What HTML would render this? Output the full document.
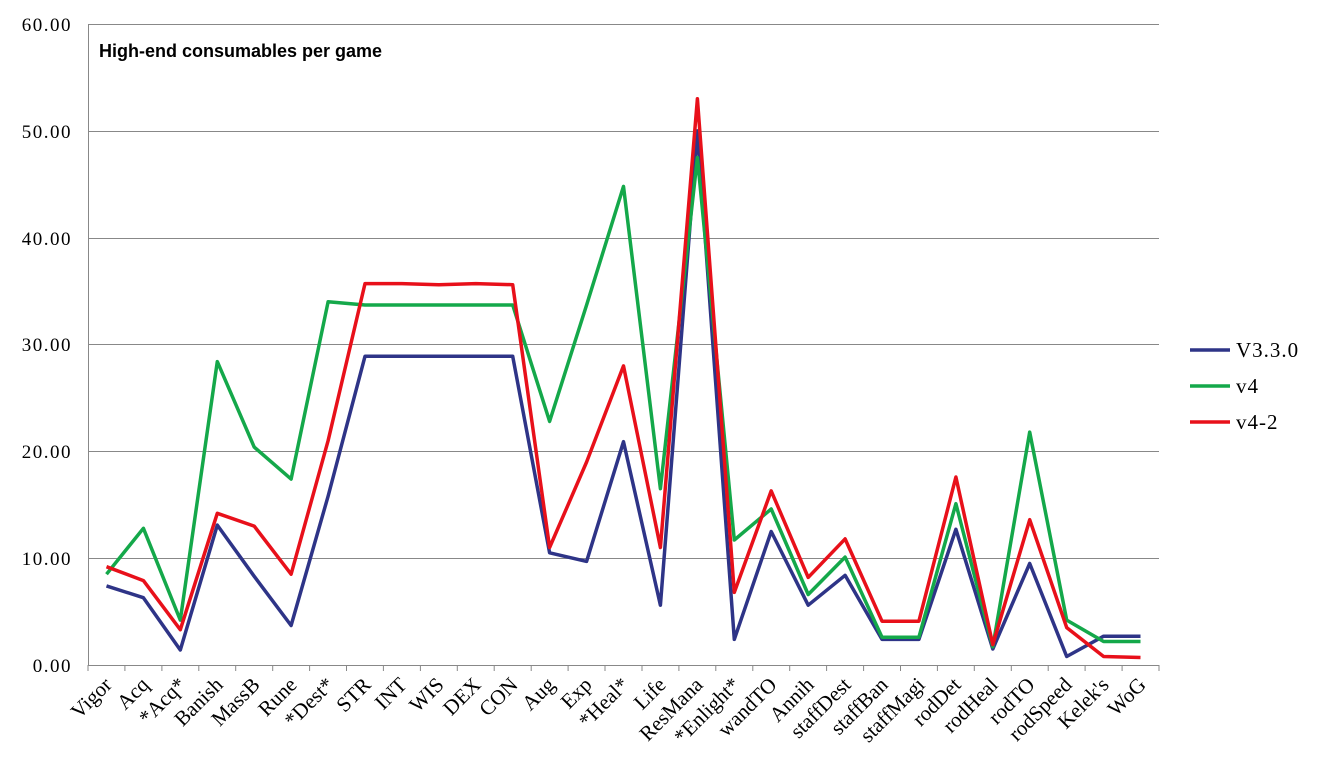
<!DOCTYPE html>
<html><head><meta charset="utf-8"><style>
html,body{margin:0;padding:0;background:#fff;}
svg{display:block;}
.yl{font-family:"Liberation Serif",serif;font-size:19px;letter-spacing:1.5px;fill:#000;}
.xl{font-family:"Liberation Serif",serif;font-size:21px;fill:#000;}
</style></head><body>
<svg id="c" width="1319" height="772" viewBox="0 0 1319 772" xmlns="http://www.w3.org/2000/svg">
<g stroke="#888" stroke-width="1">
<line x1="88" y1="24.5" x2="1159" y2="24.5"/>
<line x1="88" y1="131.5" x2="1159" y2="131.5"/>
<line x1="88" y1="238.5" x2="1159" y2="238.5"/>
<line x1="88" y1="344.5" x2="1159" y2="344.5"/>
<line x1="88" y1="451.5" x2="1159" y2="451.5"/>
<line x1="88" y1="558.5" x2="1159" y2="558.5"/>
<line x1="88" y1="665.5" x2="1159" y2="665.5"/>
<line x1="88.5" y1="24" x2="88.5" y2="665"/>
</g>
<g id="ticks" stroke="#888" stroke-width="1"></g>
<g class="yl" text-anchor="end">
<text x="72" y="31">60.00</text>
<text x="72" y="138">50.00</text>
<text x="72" y="245">40.00</text>
<text x="72" y="351">30.00</text>
<text x="72" y="458">20.00</text>
<text x="72" y="565">10.00</text>
<text x="72" y="672">0.00</text>
</g>
<text x="99" y="57" font-family="Liberation Sans,sans-serif" font-weight="bold" font-size="18">High-end consumables per game</text>
<g class="xl" text-anchor="end">
<text transform="translate(113,686) rotate(-45)">Vigor</text>
<text transform="translate(150,686) rotate(-45)">Acq</text>
<text transform="translate(187,686) rotate(-45)">*Acq*</text>
<text transform="translate(224,686) rotate(-45)">Banish</text>
<text transform="translate(261,686) rotate(-45)">MassB</text>
<text transform="translate(298,686) rotate(-45)">Rune</text>
<text transform="translate(335,686) rotate(-45)">*Dest*</text>
<text transform="translate(372,686) rotate(-45)">STR</text>
<text transform="translate(408,686) rotate(-45)">INT</text>
<text transform="translate(445,686) rotate(-45)">WIS</text>
<text transform="translate(482,686) rotate(-45)">DEX</text>
<text transform="translate(519,686) rotate(-45)">CON</text>
<text transform="translate(556,686) rotate(-45)">Aug</text>
<text transform="translate(593,686) rotate(-45)">Exp</text>
<text transform="translate(630,686) rotate(-45)">*Heal*</text>
<text transform="translate(667,686) rotate(-45)">Life</text>
<text transform="translate(704,686) rotate(-45)">ResMana</text>
<text transform="translate(741,686) rotate(-45)">*Enlight*</text>
<text transform="translate(778,686) rotate(-45)">wandTO</text>
<text transform="translate(815,686) rotate(-45)">Annih</text>
<text transform="translate(852,686) rotate(-45)">staffDest</text>
<text transform="translate(889,686) rotate(-45)">staffBan</text>
<text transform="translate(926,686) rotate(-45)">staffMagi</text>
<text transform="translate(962,686) rotate(-45)">rodDet</text>
<text transform="translate(999,686) rotate(-45)">rodHeal</text>
<text transform="translate(1036,686) rotate(-45)">rodTO</text>
<text transform="translate(1073,686) rotate(-45)">rodSpeed</text>
<text transform="translate(1110,686) rotate(-45)">Kelek's</text>
<text transform="translate(1147,686) rotate(-45)">WoG</text>
</g>
<polyline id="pb" fill="none" stroke="#2e3487" stroke-width="3.5" stroke-linejoin="round"/>
<polyline id="pg" fill="none" stroke="#14a84a" stroke-width="3.5" stroke-linejoin="round"/>
<polyline id="pr" fill="none" stroke="#e8101a" stroke-width="3.5" stroke-linejoin="round"/>
<g stroke-width="3.5">
<line x1="1190" y1="350" x2="1230" y2="350" stroke="#2e3487"/>
<line x1="1190" y1="386" x2="1230" y2="386" stroke="#14a84a"/>
<line x1="1190" y1="422" x2="1230" y2="422" stroke="#e8101a"/>
</g>
<g class="xl" font-size="20" letter-spacing="1">
<text x="1236" y="357">V3.3.0</text>
<text x="1236" y="393">v4</text>
<text x="1236" y="429">v4-2</text>
</g>
</svg>
<script>
var B=[7.4,6.3,1.4,13.1,8.3,3.7,15.8,28.9,28.9,28.9,28.9,28.9,10.5,9.7,20.9,5.6,50,2.4,12.5,5.6,8.4,2.4,2.4,12.7,1.5,9.5,0.8,2.7,2.7];
var G=[8.5,12.8,4.2,28.4,20.4,17.4,34.0,33.7,33.7,33.7,33.7,33.7,22.8,33.7,44.8,16.5,47.5,11.7,14.6,6.6,10.1,2.6,2.6,15.1,1.7,21.8,4.2,2.2,2.2];
var R=[9.2,7.9,3.3,14.2,13.0,8.5,21,35.7,35.7,35.6,35.7,35.6,11.0,19,28.0,11.0,53.0,6.8,16.3,8.2,11.8,4.1,4.1,17.6,1.9,13.6,3.5,0.8,0.7];
var w=1071/29;
function pts(a){return a.map(function(v,i){return (88+w*(i+0.5)).toFixed(1)+","+(665-v*10.683).toFixed(1)}).join(" ");}
document.getElementById("pb").setAttribute("points",pts(B));
document.getElementById("pg").setAttribute("points",pts(G));
document.getElementById("pr").setAttribute("points",pts(R));
var t=document.getElementById("ticks"),s="";
for(var i=0;i<=29;i++){var x=(88+w*i).toFixed(1);s+='<line x1="'+x+'" y1="665" x2="'+x+'" y2="671"/>';}
t.innerHTML=s;
</script>
</body></html>
